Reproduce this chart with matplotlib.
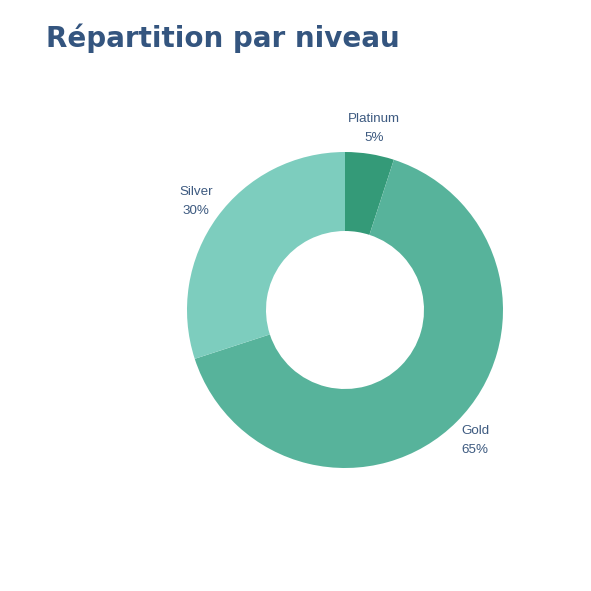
import matplotlib
matplotlib.use('Agg')
import matplotlib.pyplot as plt

# ── Data ────────────────────────────────────────────────────────────────
levels = ['Platinum', 'Gold', 'Silver']
shares = [5, 65, 30]
colours = ['#349a78', '#57b39b', '#7dcdbe']

TITLE = 'Répartition par niveau'
TEXT_COL = '#3d5a80'
TITLE_COL = '#34557f'

# ── Figure ──────────────────────────────────────────────────────────────
fig = plt.figure(figsize=(5.91, 5.91), dpi=100)

# donut centred at (345, 310) px with outer radius 158 px
W = 591.0
cx, cy, r = 345, 310, 158
ax = fig.add_axes([(cx - r) / W, (W - cy - r) / W, 2 * r / W, 2 * r / W])

labels = [f'{lab}\n{v}%' for lab, v in zip(levels, shares)]
wedges, texts = ax.pie(
    shares, labels=labels, colors=colours, startangle=90, counterclock=False,
    radius=1.0, labeldistance=1.165,
    wedgeprops=dict(width=0.5, linewidth=0),
    textprops=dict(color=TEXT_COL, fontsize=9.6, family='Liberation Sans',
                   ha='center', va='center', linespacing=1.75),
)
for t in texts:
    t.set_horizontalalignment('center')
ax.set_xlim(-1, 1)
ax.set_ylim(-1, 1)
ax.set_aspect('equal')

fig.text(46 / W, 1 - 38 / W, TITLE, fontsize=20, fontweight='bold',
         family='DejaVu Sans', color=TITLE_COL, ha='left', va='center')

fig.savefig('out.png', dpi=100)
